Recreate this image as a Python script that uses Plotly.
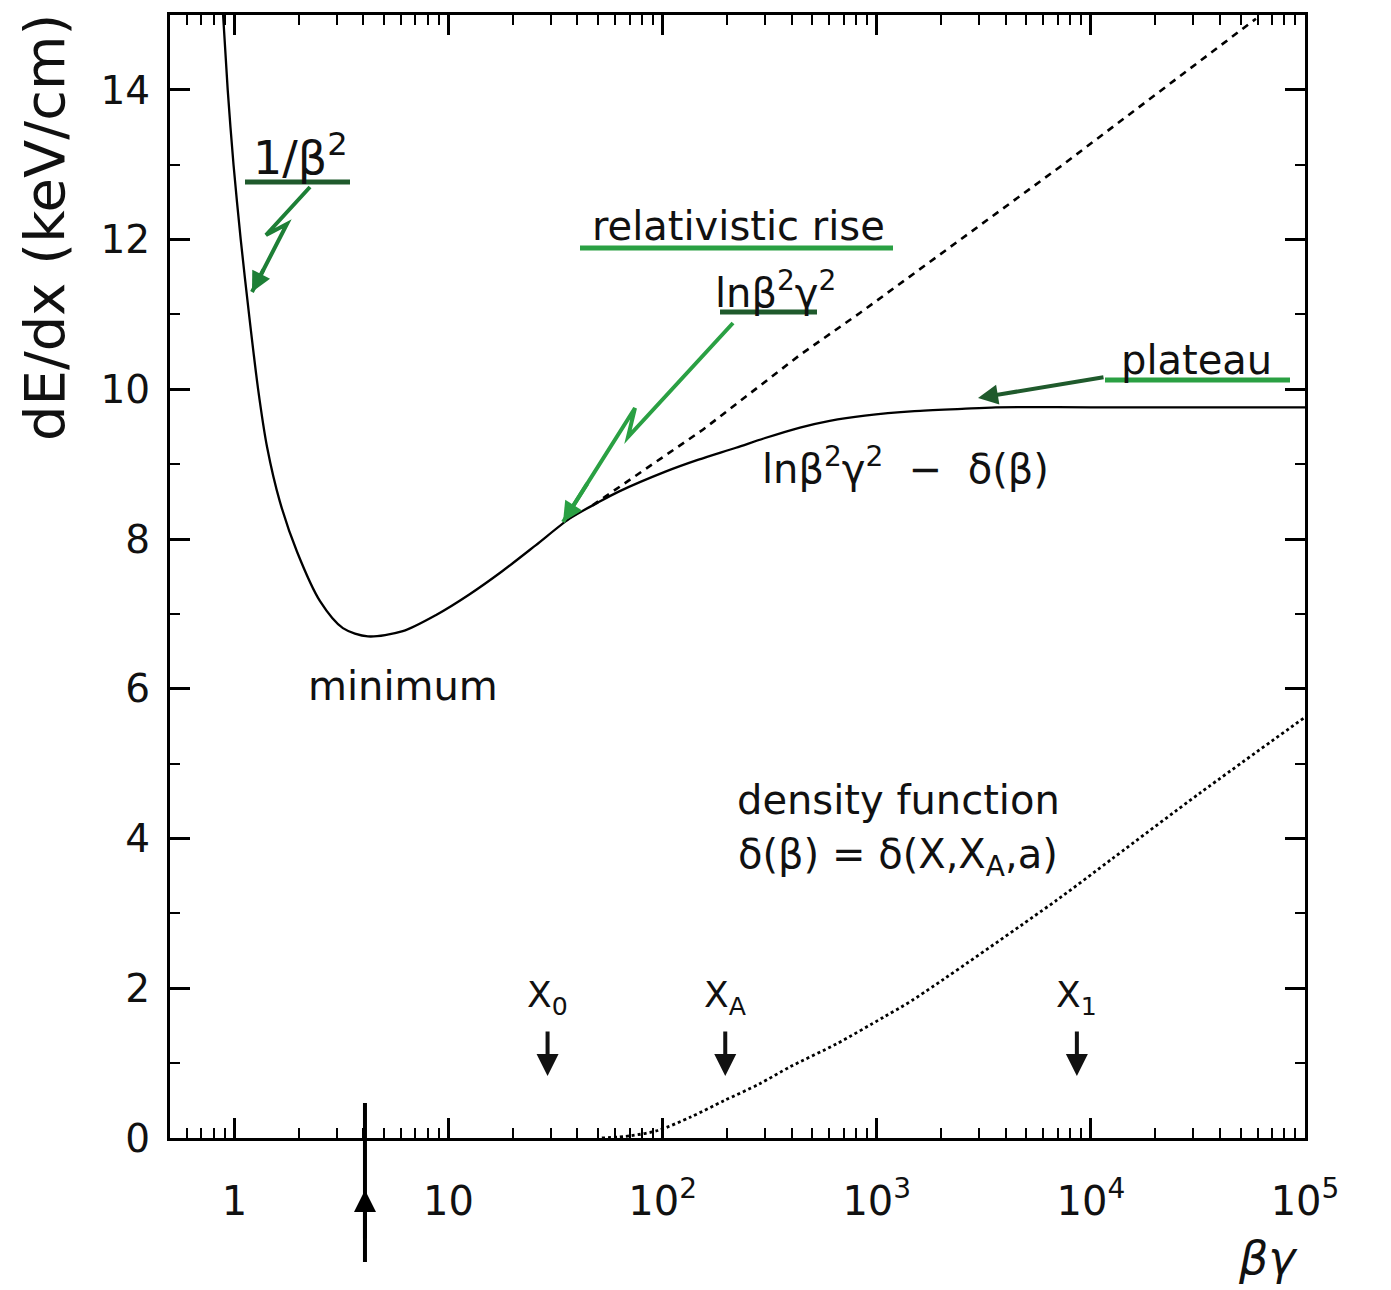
import math
import plotly.graph_objects as go

# ---------------- data ----------------
# solid curve: full dE/dx  (ln(b^2 g^2) - delta)
solid_bg = [0.885, 0.93, 0.99, 1.07, 1.17, 1.29, 1.42, 1.63, 1.96, 2.51, 3.21, 4.2,
            6.11, 8.79, 12.5, 17.8, 25.6, 36.6, 50, 62, 103, 147, 220, 301, 438, 603, 880,
            1500, 2500, 3600, 10000, 100000]
solid_val = [15.0, 14.0, 13.0, 12.0, 11.0, 10.0, 9.23, 8.50, 7.83, 7.17, 6.81, 6.70,
             6.77, 6.99, 7.26, 7.57, 7.92, 8.27, 8.49, 8.63, 8.90, 9.06, 9.22, 9.35, 9.49, 9.58, 9.65,
             9.71, 9.74, 9.76, 9.76, 9.76]

# dashed: relativistic rise without density correction
dashed_bg = [47, 154, 438, 834, 7160, 59000]
dashed_val = [8.45, 9.46, 10.46, 11.02, 12.97, 14.95]

# dotted: density function delta
dotted_bg = [52, 71, 95, 135, 194, 282, 393, 651, 1070, 1465, 6950, 12700, 32400, 100000]
dotted_val = [0.0, 0.03, 0.10, 0.28, 0.50, 0.72, 0.95, 1.26, 1.61, 1.84, 3.18, 3.74, 4.61, 5.62]

# axis ticks
x_tickvals = [1, 10, 100, 1000, 10000, 100000]
x_ticktext = ["1", "10", "10<sup>2</sup>", "10<sup>3</sup>", "10<sup>4</sup>", "10<sup>5</sup>"]
y_tickvals = [0, 2, 4, 6, 8, 10, 12, 14]

# special points marked on the axis
marker_names = ["X<sub>0</sub>", "X<sub>A</sub>", "X<sub>1</sub>"]
marker_bg = [29, 196, 8600]
minimum_bg = 4.07

# ---------------- geometry helpers for decorations ----------------
L, R, T, B = 170, 1305, 15, 1138
W, H = 1391, 1290


def P(xp, yp):
    return (xp - L) / (R - L), (B - yp) / (B - T)


FONT = "DejaVu Sans"
GREEN = "#2aa043"
DGREEN = "#1f5a2c"
MGREEN = "#1d7f36"

fig = go.Figure()
fig.add_trace(go.Scatter(x=solid_bg, y=solid_val, mode="lines",
                         line=dict(color="black", width=2.3, shape="spline", smoothing=0.8),
                         hoverinfo="skip"))
fig.add_trace(go.Scatter(x=dashed_bg, y=dashed_val, mode="lines",
                         line=dict(color="black", width=2.6, dash="7px,6px"),
                         hoverinfo="skip"))
fig.add_trace(go.Scatter(x=dotted_bg, y=dotted_val, mode="lines",
                         line=dict(color="black", width=2.8, dash="dot", shape="spline", smoothing=0.8),
                         hoverinfo="skip"))

minor_x = [k * 10 ** p for p in range(-1, 5) for k in range(2, 10) if 0.5 <= k * 10 ** p <= 1e5]

fig.update_xaxes(type="log", range=[math.log10(0.5), 5.0],
                 tickvals=x_tickvals, ticktext=x_ticktext,
                 ticks="inside", ticklen=20, tickwidth=2.5, tickcolor="black",
                 showline=True, linewidth=3, linecolor="black", mirror="ticks",
                 showgrid=False, zeroline=False,
                 ticklabelstandoff=26,
                 tickfont=dict(family=FONT, size=40, color="#111111"),
                 minor=dict(tickvals=minor_x, ticks="inside", ticklen=10, tickwidth=2,
                            tickcolor="black", showgrid=False))
fig.update_yaxes(range=[0, 15], tickvals=y_tickvals,
                 ticks="inside", ticklen=20, tickwidth=2.5, tickcolor="black",
                 showline=True, linewidth=3, linecolor="black", mirror="ticks",
                 showgrid=False, zeroline=False,
                 ticklabelstandoff=9,
                 tickfont=dict(family=FONT, size=39, color="#111111"),
                 minor=dict(dtick=1, ticks="inside", ticklen=10, tickwidth=2,
                            tickcolor="black", showgrid=False))

ann = []


def text(xp, yp, s, size=40, **kw):
    x, y = P(xp, yp)
    ann.append(dict(x=x, y=y, xref="paper", yref="paper", text=s, showarrow=False,
                    xanchor="center", yanchor="middle",
                    font=dict(family=FONT, size=size, color="#111111"), **kw))


def arrow(x0, y0, x1, y1, color, width=4):
    # arrow drawn from (x0,y0) to head at (x1,y1), in pixels
    x, y = P(x1, y1)
    ann.append(dict(x=x, y=y, xref="paper", yref="paper", text="", showarrow=True,
                    ax=x0 - x1, ay=y0 - y1, arrowhead=2, arrowsize=1.0,
                    arrowwidth=width, arrowcolor=color))


shapes = []


def uline(x0, x1, yp, color, width=5):
    a, b = P(x0, yp)
    c, _ = P(x1, yp)
    shapes.append(dict(type="line", xref="paper", yref="paper", x0=a, x1=c, y0=b, y1=b,
                       line=dict(color=color, width=width)))


def zigzag(pts, color, width=4):
    # hand-drawn "lightning" arrow: polyline, arrowhead on the last segment
    path = ""
    for i, (xp, yp) in enumerate(pts):
        x, y = P(xp, yp)
        path += ("M" if i == 0 else " L") + f"{x:.5f},{y:.5f}"
    shapes.append(dict(type="path", xref="paper", yref="paper", path=path,
                       line=dict(color=color, width=width)))
    (xa, ya), (xb, yb) = pts[-2], pts[-1]
    f = 0.35
    arrow(xb + (xa - xb) * f, yb + (ya - yb) * f, xb, yb, color, width)


# y axis title (placed high, as in the reference)
text(45, 228, "dE/dx (keV/cm)", size=56, textangle=-90)

# 1/beta^2
text(300, 155, "1/β<sup>2</sup>", size=46)
uline(245, 350, 182, DGREEN)
zigzag([(310, 187), (266, 235), (287, 224), (252, 292)], MGREEN)

# relativistic rise
text(738, 226, "relativistic rise")
uline(580, 893, 248, GREEN)
text(775, 290, "lnβ<sup>2</sup>γ<sup>2</sup>")
uline(720, 817, 312, DGREEN)
zigzag([(733, 323), (628, 437), (635, 408), (563, 522)], GREEN)

# plateau
text(1196, 360, "plateau")
uline(1105, 1290, 380, GREEN)
arrow(1105, 377, 978, 398, DGREEN)

text(905, 466, "lnβ<sup>2</sup>γ<sup>2</sup>  −  δ(β)")
text(403, 686, "minimum")
text(898, 800, "density function")
text(898, 857, "δ(β) = δ(X,X<sub>A</sub>,a)")

# X0, XA, X1 markers with down arrows
for name, bg in zip(marker_names, marker_bg):
    ann.append(dict(x=math.log10(bg), y=P(0, 997)[1], xref="x", yref="paper", text=name,
                    showarrow=False, xanchor="center", yanchor="middle",
                    font=dict(family=FONT, size=36, color="#111111")))
    ann.append(dict(x=math.log10(bg), y=P(0, 1076)[1], xref="x", yref="paper", text="",
                    showarrow=True, ax=0, ay=-46, arrowhead=2, arrowsize=1.1,
                    arrowwidth=4, arrowcolor="#111111"))

# arrow at the minimum, below the axis
shapes.append(dict(type="line", xref="x", yref="paper", x0=minimum_bg, x1=minimum_bg,
                   y0=P(0, 1262)[1], y1=P(0, 1103)[1], line=dict(color="black", width=4)))
ann.append(dict(x=math.log10(minimum_bg), y=P(0, 1190)[1], xref="x", yref="paper", text="",
                showarrow=True, ax=0, ay=50, arrowhead=2, arrowsize=1.1, arrowwidth=4,
                arrowcolor="black"))

# x axis title
text(1268, 1258, "<i>βγ</i>", size=46)

fig.update_layout(width=W, height=H, autosize=False,
                  margin=dict(l=L, r=W - R, t=T, b=H - B),
                  paper_bgcolor="white", plot_bgcolor="white",
                  showlegend=False, annotations=ann, shapes=shapes)

fig.write_html("out.html", config={"displayModeBar": False},
               post_script="document.body.style.margin='0';document.body.style.overflow='hidden';")
